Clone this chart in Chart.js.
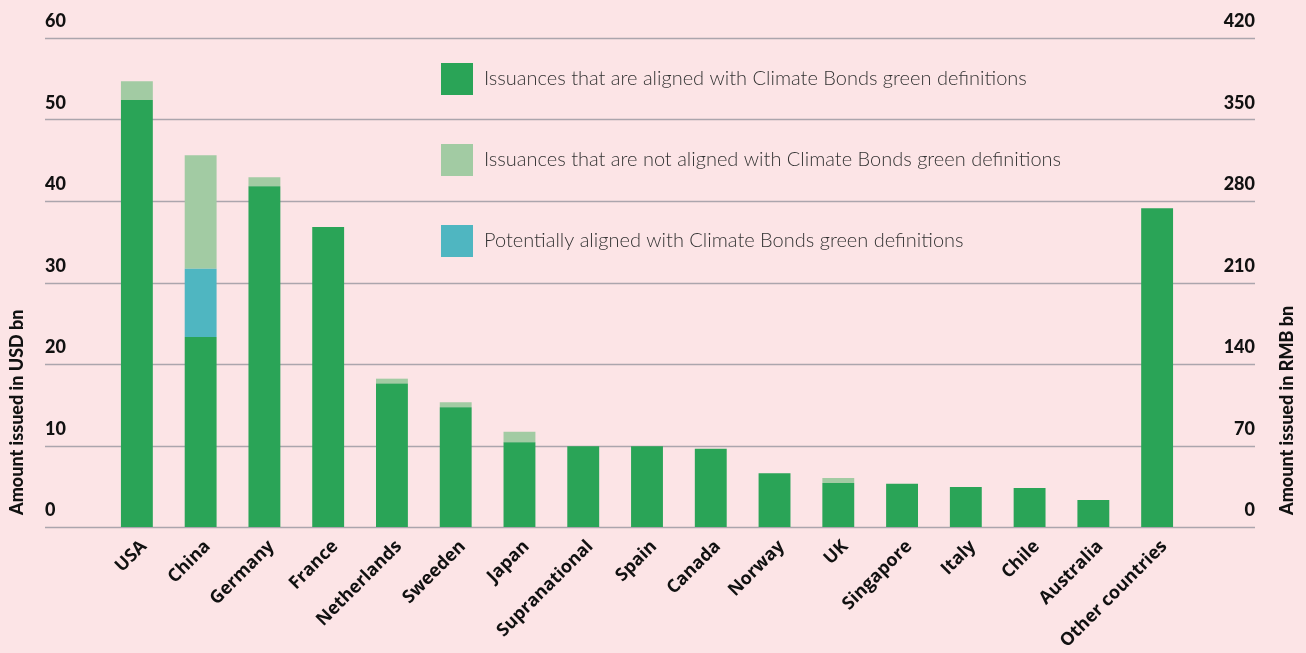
<!DOCTYPE html>
<html>
<head>
<meta charset="utf-8">
<script src="https://cdn.jsdelivr.net/npm/chart.js@4.4.1/dist/chart.umd.min.js"></script>
<style>
  html, body { margin: 0; padding: 0; background: #fce4e6; }
  #wrap { width: 1306px; height: 653px; position: relative; }
</style>
</head>
<body>
<div id="wrap"><canvas id="chart"></canvas></div>
<script>
// data (USD bn)
var countries = ['USA', 'China', 'Germany', 'France', 'Netherlands', 'Sweeden', 'Japan', 'Supranational',
  'Spain', 'Canada', 'Norway', 'UK', 'Singapore', 'Italy', 'Chile', 'Australia', 'Other countries'];
var aligned = [52.4, 23.3, 41.8, 36.8, 17.6, 14.7, 10.4, 9.9, 9.9, 9.6, 6.6, 5.4, 5.3, 4.9, 4.8, 3.3, 39.1];
var notAligned = [2.3, 13.9, 1.1, 0, 0.6, 0.6, 1.3, 0, 0, 0, 0, 0.6, 0, 0, 0, 0, 0];
var potential = [0, 8.4, 0, 0, 0, 0, 0, 0, 0, 0, 0, 0, 0, 0, 0, 0, 0];
var usdTicks = [0, 10, 20, 30, 40, 50, 60];
var rmbTicks = [0, 70, 140, 210, 280, 350, 420];

var labelAligned = 'Issuances that are aligned with Climate Bonds green definitions';
var labelNotAligned = 'Issuances that are not aligned with Climate Bonds green definitions';
var labelPotential = 'Potentially aligned with Climate Bonds green definitions';

var GRID_LEFT = 45, GRID_RIGHT = 1255;

// grid lines + tick labels, drawn wider than the bar area
var gridPlugin = {
  id: 'gridPlugin',
  beforeDatasetsDraw: function(chart) {
    var ctx = chart.ctx;
    var yl = chart.scales.usd, yr = chart.scales.rmb;
    ctx.save();
    ctx.strokeStyle = '#aba5ad';
    ctx.lineWidth = 1.5;
    usdTicks.forEach(function(v) {
      var y = Math.round(yl.getPixelForValue(v)) + 0.5;
      ctx.beginPath();
      ctx.moveTo(GRID_LEFT, y);
      ctx.lineTo(GRID_RIGHT, y);
      ctx.stroke();
    });
    ctx.fillStyle = '#111';
    ctx.font = '900 18px Lato';
    ctx.textBaseline = 'alphabetic';
    ctx.textAlign = 'left';
    usdTicks.forEach(function(v) {
      ctx.fillText(String(v), GRID_LEFT, yl.getPixelForValue(v) - 11);
    });
    ctx.textAlign = 'right';
    rmbTicks.forEach(function(v) {
      ctx.fillText(String(v), GRID_RIGHT, yr.getPixelForValue(v) - 11);
    });
    // axis titles
    ctx.font = '900 18px Lato';
    ctx.textAlign = 'left';
    ctx.textBaseline = 'middle';
    ctx.save();
    ctx.translate(17, 515);
    ctx.rotate(-Math.PI / 2);
    ctx.fillText('Amount issued in USD bn', 0, 0);
    ctx.restore();
    ctx.save();
    ctx.translate(1287, 515);
    ctx.rotate(-Math.PI / 2);
    ctx.fillText('Amount issued in RMB bn', 0, 0);
    ctx.restore();
    ctx.restore();
  }
};

// legend in the plot, boxes on the left
var legendPlugin = {
  id: 'legendPlugin',
  afterDraw: function(chart) {
    var ctx = chart.ctx;
    var rows = [79, 160, 241];
    ctx.save();
    chart.data.datasets.forEach(function(ds) {
      var y = rows[ds.legendRow];
      ctx.fillStyle = ds.backgroundColor;
      ctx.fillRect(441, y - 16, 32, 32);
      ctx.fillStyle = '#333';
      ctx.font = '300 20px Lato';
      ctx.textAlign = 'left';
      ctx.textBaseline = 'middle';
      ctx.fillText(ds.label, 484, y);
    });
    ctx.restore();
  }
};

new Chart(document.getElementById('chart'), {
  type: 'bar',
  data: {
    labels: countries,
    datasets: [
      { label: labelAligned, data: aligned, backgroundColor: '#2aa457', yAxisID: 'usd', legendRow: 0 },
      { label: labelPotential, data: potential, backgroundColor: '#4fb6c1', yAxisID: 'usd', legendRow: 2 },
      { label: labelNotAligned, data: notAligned, backgroundColor: '#a2cba3', yAxisID: 'usd', legendRow: 1 }
    ]
  },
  options: {
    responsive: true,
    maintainAspectRatio: false,
    animation: false,
    layout: { padding: { left: 105, right: 117, top: 38, bottom: 0 } },
    datasets: { bar: { barPercentage: 0.5, categoryPercentage: 1.0 } },
    plugins: { legend: { display: false }, tooltip: { enabled: false } },
    scales: {
      x: {
        stacked: true,
        grid: { display: false },
        border: { display: false },
        afterFit: function(s) { s.height = 126; },
        ticks: {
          color: '#111',
          font: { family: '"Open Sans"', weight: 'bold', size: 18 },
          minRotation: 45,
          maxRotation: 45,
          padding: 1,
          labelOffset: 7,
          autoSkip: false
        }
      },
      usd: {
        stacked: true,
        position: 'left',
        display: false,
        min: 0,
        max: 60
      },
      rmb: {
        position: 'right',
        display: false,
        min: 0,
        max: 420
      }
    }
  },
  plugins: [gridPlugin, legendPlugin]
});
</script>
</body>
</html>
